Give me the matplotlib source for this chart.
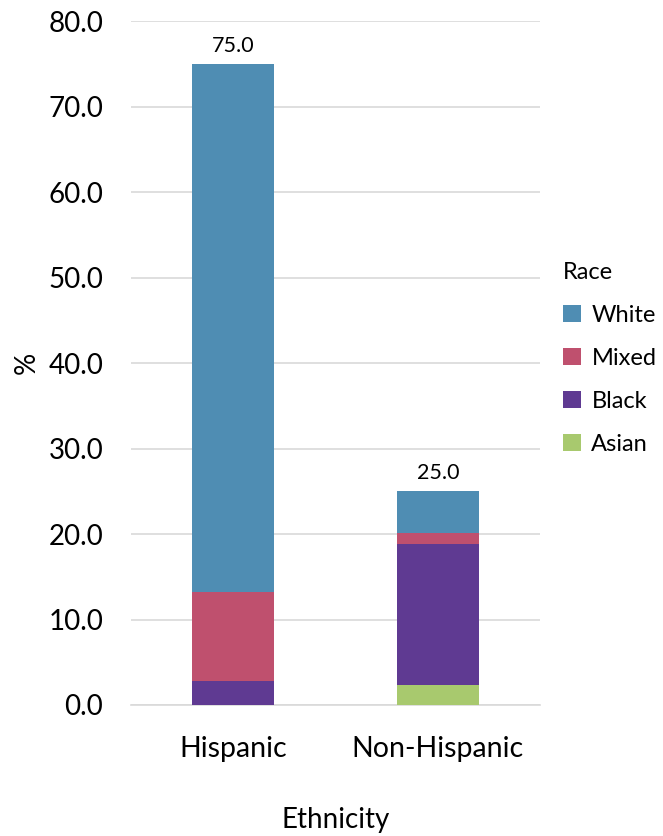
import matplotlib
matplotlib.use("Agg")
import matplotlib.pyplot as plt
import numpy as np

plt.rcParams['font.family'] = ['Lato', 'DejaVu Sans']

categories = ["Hispanic", "Non-Hispanic"]
races = ["Asian", "Black", "Mixed", "White"]
asian = [0.0, 2.3]
black = [2.8, 16.5]
mixed = [10.4, 1.3]
white = [61.8, 4.9]
totals = [75.0, 25.0]
yticks = [0, 10, 20, 30, 40, 50, 60, 70, 80]

colors = {"White": "#4F8DB3", "Mixed": "#BF506E", "Black": "#5F3A92", "Asian": "#A8C96E"}

fig = plt.figure(figsize=(6.63, 8.36), dpi=100)
ax = fig.add_axes([0.1976, 0.1567, 0.617, 0.818])

x = np.arange(len(categories))
series = {"Asian": asian, "Black": black, "Mixed": mixed, "White": white}
bottom = np.zeros(len(categories))
handles = {}
for r in races:
    vals = np.array(series[r])
    h = ax.bar(x, vals, bottom=bottom, width=0.4, color=colors[r], label=r, zorder=3)
    handles[r] = h
    bottom += vals

for xi, t in zip(x, totals):
    ax.annotate(f"{t:.1f}", (xi, t), xytext=(0, 6), textcoords="offset points",
                ha="center", va="bottom", fontsize=15.5)

ax.set_xlim(-0.5, 1.5)
ax.set_ylim(0, 80)
ax.set_yticks(yticks)
ax.set_yticklabels([f"{v:.1f}" for v in yticks], fontsize=20)
ax.set_xticks(x)
ax.set_xticklabels(categories, fontsize=20.5)
ax.tick_params(axis='y', length=0, pad=20)
ax.tick_params(axis='x', length=0, pad=22)
ax.yaxis.grid(True, color="#D9D9D9", linewidth=1.2, zorder=0)
for s in ["top", "right", "left"]:
    ax.spines[s].set_visible(False)
ax.spines["bottom"].set_color("#D9D9D9")
ax.spines["bottom"].set_linewidth(1.2)
ax.set_ylabel("%", fontsize=20, labelpad=6)
ax.set_xlabel("Ethnicity", fontsize=20, labelpad=33)

order = ["White", "Mixed", "Black", "Asian"]
leg = fig.legend([handles[r] for r in order], order, title="Race",
                 loc="upper left", bbox_to_anchor=(0.835, 0.698),
                 frameon=False, fontsize=17, title_fontsize=17,
                 handlelength=0.75, handleheight=0.75, handletextpad=0.45,
                 labelspacing=0.93, borderaxespad=0)
leg._legend_box.align = "left"

fig.savefig("out.png", dpi=100)
